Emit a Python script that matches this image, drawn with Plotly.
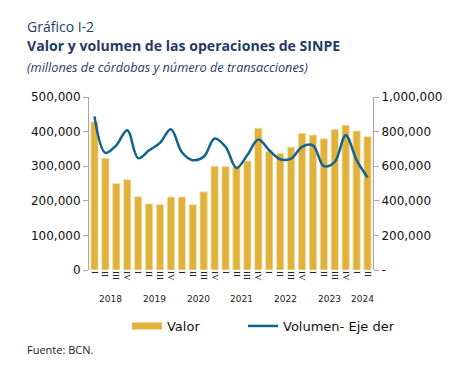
import plotly.graph_objects as go

years = ["2018", "2019", "2020", "2021", "2022", "2023", "2024"]
quarters_per_year = [4, 4, 4, 4, 4, 4, 2]
roman = ["I", "II", "III", "IV"]

categories = []
tick_labels = []
for y, n in zip(years, quarters_per_year):
    for q in roman[:n]:
        categories.append(f"{y}-{q}")
        tick_labels.append(q)

valor = [428000, 323000, 250000, 261000, 212000, 191000, 189000, 211000,
         211000, 189000, 226000, 300000, 299000, 298000, 315000, 410000,
         343000, 337000, 355000, 395000, 390000, 379000, 406000, 418000,
         402000, 385000]

volumen = [888000, 677000, 721000, 808000, 646000, 692000, 735000, 813000,
           681000, 635000, 654000, 760000, 712000, 590000, 665000, 754000,
           692000, 640000, 644000, 712000, 721000, 600000, 625000, 779000,
           635000, 535000]

GOLD = "#E0B23C"
BLUE = "#11628F"
NAVY = "#1F3A68"

fig = go.Figure()
fig.add_trace(go.Bar(
    x=categories, y=valor, name="Valor", showlegend=False,
    marker=dict(color=GOLD, line=dict(color="#F3E2B5", width=0.8)),
    yaxis="y",
))
# legend swatch for the bars (wide rectangle like the reference)
fig.add_trace(go.Scatter(
    x=[None], y=[None], name="Valor", mode="lines",
    line=dict(color=GOLD, width=7), yaxis="y", legend="legend",
))
fig.add_trace(go.Scatter(
    x=categories, y=volumen, name="Volumen- Eje der",
    mode="lines", line=dict(color=BLUE, width=2.5, shape="spline", smoothing=1.0),
    yaxis="y2", legend="legend2",
))

annotations = []
idx = 0
for y, n in zip(years, quarters_per_year):
    center = idx + (n - 1) / 2
    annotations.append(dict(
        x=center, y=-0.165, xref="x", yref="paper", text=y, showarrow=False,
        font=dict(family="DejaVu Sans", size=9, color="#222222"),
        xanchor="center", yanchor="middle",
    ))
    idx += n

annotations += [
    dict(x=-0.225, y=1.405, xref="paper", yref="paper", text="Gráfico I-2",
         showarrow=False, xanchor="left", yanchor="middle",
         font=dict(family="Open Sans", size=14, color=NAVY)),
    dict(x=-0.225, y=1.295, xref="paper", yref="paper",
         text="<b>Valor y volumen de las operaciones de SINPE</b>",
         showarrow=False, xanchor="left", yanchor="middle",
         font=dict(family="Open Sans", size=14.1, color=NAVY)),
    dict(x=-0.225, y=1.173, xref="paper", yref="paper",
         text="<i>(millones de córdobas y número de transacciones)</i>",
         showarrow=False, xanchor="left", yanchor="middle",
         font=dict(family="Open Sans", size=12.7, color=NAVY)),
    dict(x=-0.225, y=-0.462, xref="paper", yref="paper", text="Fuente: BCN.",
         showarrow=False, xanchor="left", yanchor="middle",
         font=dict(family="Open Sans", size=11, color="#1a1a1a")),
]

legend_common = dict(
    orientation="h", xref="container", yref="container",
    xanchor="left", y=0.1675, yanchor="middle",
    font=dict(family="DejaVu Sans", size=13, color="#111111"),
    bgcolor="rgba(0,0,0,0)",
)

fig.update_layout(
    width=455, height=382,
    margin=dict(l=81, r=90, t=89, b=120, autoexpand=False),
    paper_bgcolor="white", plot_bgcolor="white",
    bargap=0.33,
    showlegend=True,
    legend=dict(x=0.2615, **legend_common),
    legend2=dict(x=0.5165, **legend_common),
    xaxis=dict(
        type="category", categoryorder="array", categoryarray=categories,
        tickmode="array", tickvals=categories, ticktext=tick_labels,
        tickangle=90, tickfont=dict(family="Liberation Serif", size=9, color="#222222"),
        showgrid=False, showline=False, ticks="", zeroline=False,
        range=[-0.5, len(categories) - 0.5],
    ),
    yaxis=dict(
        range=[0, 500000], tickvals=[0, 100000, 200000, 300000, 400000, 500000],
        tickformat=",", showgrid=False, zeroline=False,
        showline=True, linecolor="#A6A6A6", linewidth=1,
        ticks="outside", ticklen=5, tickcolor="#A6A6A6",
        tickfont=dict(family="DejaVu Sans", size=12, color="#111111"),
    ),
    yaxis2=dict(
        overlaying="y", side="right", range=[0, 1000000],
        tickvals=[0, 200000, 400000, 600000, 800000, 1000000],
        ticktext=["-", "200,000", "400,000", "600,000", "800,000", "1,000,000"],
        showgrid=False, zeroline=False,
        showline=True, linecolor="#A6A6A6", linewidth=1,
        ticks="outside", ticklen=5, tickcolor="#A6A6A6",
        tickfont=dict(family="DejaVu Sans", size=12, color="#111111"),
    ),
    annotations=annotations,
)

fig.write_html("out.html")
